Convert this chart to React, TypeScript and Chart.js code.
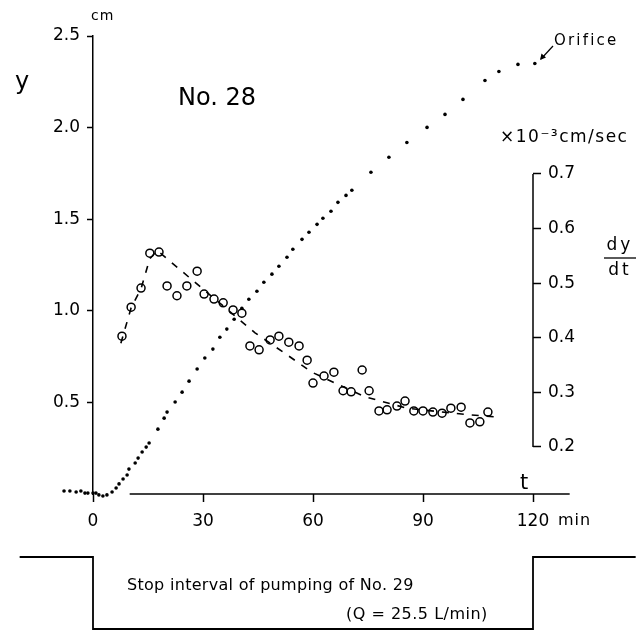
import { useEffect, useRef } from 'react';
import { Chart, registerables } from 'chart.js';

Chart.register(...registerables);

const FONT = '"DejaVu Sans", sans-serif';

// water level y (cm) of No. 28 — dotted record
const levelT = [-7.9, -6.3, -4.6, -3.3, -2.2, -1.4, 0, 0.8, 1.6, 2.7, 3.8, 5.2, 6.3, 7.1, 8.2, 9.3, 9.8, 11.5, 12.3, 13.4, 14.5, 15.3, 17.7, 19.4, 20.2, 22.4, 24.3, 26.2, 28.4, 30.5, 32.7, 34.6, 36.5, 38.5, 40.6, 42.5, 44.7, 46.6, 48.8, 50.7, 52.9, 54.5, 57.0, 58.9, 61.1, 62.7, 64.9, 66.8, 69.0, 70.6, 75.8, 80.7, 85.6, 91.1, 96.0, 100.9, 106.9, 110.7, 115.9, 120.5];
const levelY = [0.016, 0.016, 0.011, 0.016, 0.005, 0.005, 0.005, 0.005, -0.005, -0.011, -0.005, 0.011, 0.033, 0.055, 0.082, 0.104, 0.136, 0.169, 0.196, 0.229, 0.256, 0.278, 0.354, 0.414, 0.447, 0.502, 0.556, 0.616, 0.682, 0.742, 0.791, 0.856, 0.9, 0.954, 1.014, 1.063, 1.107, 1.156, 1.2, 1.243, 1.292, 1.336, 1.39, 1.429, 1.472, 1.505, 1.543, 1.592, 1.63, 1.658, 1.756, 1.838, 1.919, 2.001, 2.072, 2.154, 2.257, 2.306, 2.345, 2.35];

// dy/dt (x10^-3 cm/sec) — circles
const rateT = [7.9, 10.4, 13.1, 15.5, 18.0, 20.2, 22.9, 25.6, 28.4, 30.3, 33.0, 35.5, 38.2, 40.6, 42.8, 45.3, 48.3, 50.7, 53.4, 56.2, 58.4, 60.0, 63.0, 65.7, 68.2, 70.4, 73.4, 75.3, 78.0, 80.2, 82.9, 85.1, 87.5, 90.0, 92.7, 95.2, 97.6, 100.4, 102.8, 105.5, 107.7];
const rateV = [0.403, 0.456, 0.491, 0.555, 0.557, 0.495, 0.477, 0.495, 0.522, 0.48, 0.471, 0.464, 0.451, 0.445, 0.385, 0.378, 0.396, 0.403, 0.392, 0.385, 0.359, 0.317, 0.33, 0.337, 0.303, 0.301, 0.341, 0.303, 0.266, 0.268, 0.275, 0.284, 0.266, 0.266, 0.264, 0.262, 0.271, 0.273, 0.244, 0.246, 0.264];

// dashed trend of dy/dt
const trendT = [7.6, 10.4, 13.1, 15.5, 17.5, 44.2, 51.8, 59.7, 66.0, 74.2, 85.6, 102.5, 110.2];
const trendV = [0.39, 0.455, 0.49, 0.545, 0.56, 0.409, 0.374, 0.337, 0.317, 0.292, 0.271, 0.259, 0.255];

// pumping of No. 29 (1 = pumping, 0 = stopped)
const pumpT = [-20, 0, 0, 120, 120, 148];
const pumpQ = [1, 1, 0, 0, 1, 1];

const xTicks = [0, 30, 60, 90, 120];
const yTicks = [0.5, 1.0, 1.5, 2.0, 2.5];
const rateTicks = [0.2, 0.3, 0.4, 0.5, 0.6, 0.7];

const pts = (xs: number[], ys: number[]) => xs.map((x, i) => ({ x, y: ys[i] }));

// let marks that lie outside the axes' box (before t = 0, below the t axis) be drawn
let savedArea: any = null;
const wideArea = {
  id: 'wideArea',
  beforeDatasetsDraw(chart: any) {
    savedArea = chart.chartArea;
    chart.chartArea = { left: 0, top: 0, right: chart.width, bottom: chart.height, width: chart.width, height: chart.height };
  },
  afterDatasetsDraw(chart: any) {
    if (savedArea) chart.chartArea = savedArea;
    savedArea = null;
  },
};

const textPlugin = {
  id: 'annotations',
  afterDraw(chart: any) {
    const ctx = chart.ctx as CanvasRenderingContext2D;
    const xs = chart.scales.x;
    const ys = chart.scales.y;
    const rs = chart.scales.rate;
    ctx.save();
    ctx.strokeStyle = '#000';
    ctx.fillStyle = '#000';
    ctx.lineWidth = 1.5;
    // t axis line
    const y0 = ys.getPixelForValue(0);
    ctx.beginPath();
    ctx.moveTo(xs.getPixelForValue(10), y0);
    ctx.lineTo(xs.getPixelForValue(130), y0);
    ctx.stroke();
    // dy/dt axis line, only over its range
    ctx.beginPath();
    ctx.moveTo(rs.left, rs.getPixelForValue(0.7));
    ctx.lineTo(rs.left, rs.getPixelForValue(0.2));
    ctx.stroke();

    const txt = (s: string, x: number, y: number, size: number, align: CanvasTextAlign = 'left', spacing = 0) => {
      ctx.font = `${size}px ${FONT}`;
      (ctx as any).letterSpacing = `${spacing}px`;
      ctx.textAlign = align;
      ctx.textBaseline = 'middle';
      ctx.fillText(s, x, y);
    };
    txt('cm', 91, 16, 14, 'left', 1);
    txt('y', 15, 83, 24);
    txt('No. 28', 178, 99, 24);
    txt('×10⁻³cm/sec', 500, 138, 17, 'left', 1.5);
    txt('Orifice', 554, 41, 15, 'left', 2.2);
    txt('dy', 620, 246, 17, 'center', 3);
    txt('dt', 620, 271, 17, 'center', 3);
    ctx.lineWidth = 1.3;
    ctx.beginPath();
    ctx.moveTo(604, 258);
    ctx.lineTo(636, 258);
    ctx.stroke();
    txt('t', 524, 484, 21, 'center');
    txt('min', 558, 521, 16, 'left', 1);
    txt('Stop interval of pumping of No. 29', 127, 586, 16, 'left', 0.3);
    txt('(Q = 25.5 L/min)', 346, 615, 16, 'left', 0.5);

    // Orifice arrow
    ctx.lineWidth = 1.2;
    ctx.beginPath();
    ctx.moveTo(553, 46);
    ctx.lineTo(541, 59);
    ctx.stroke();
    ctx.beginPath();
    ctx.moveTo(540, 60);
    ctx.lineTo(541.5, 53.5);
    ctx.lineTo(546, 57.5);
    ctx.closePath();
    ctx.fill();
    ctx.restore();
  },
};

export default function App() {
  const ref = useRef<HTMLCanvasElement | null>(null);
  useEffect(() => {
    if (!ref.current) return;
    const chart = new Chart(ref.current, {
      type: 'scatter',
      data: {
        datasets: [
          {
            label: 'trend',
            data: pts(trendT, trendV),
            yAxisID: 'rate',
            showLine: true,
            borderColor: '#000',
            borderWidth: 1.6,
            borderDash: [7, 8],
            pointRadius: 0,
            clip: false,
          } as any,
          {
            label: 'dy/dt',
            data: pts(rateT, rateV),
            yAxisID: 'rate',
            showLine: false,
            pointRadius: 4,
            pointBorderWidth: 1.5,
            pointBorderColor: '#000',
            pointBackgroundColor: 'rgba(255,255,255,0)',
            clip: false,
          } as any,
          {
            label: 'y',
            data: pts(levelT, levelY),
            yAxisID: 'y',
            showLine: false,
            pointRadius: 1.8,
            pointBorderWidth: 0,
            pointBackgroundColor: '#000',
            clip: false,
          } as any,
          {
            label: 'pump',
            data: pts(pumpT, pumpQ),
            yAxisID: 'pump',
            showLine: true,
            borderColor: '#000',
            borderWidth: 1.8,
            pointRadius: 0,
            clip: false,
          } as any,
        ],
      },
      options: {
        animation: false,
        responsive: true,
        maintainAspectRatio: false,
        layout: { padding: { top: 36, left: 0, right: 0, bottom: 0 } },
        plugins: { legend: { display: false }, tooltip: { enabled: false } },
        events: [],
        scales: {
          x: {
            type: 'linear',
            position: 'bottom',
            bounds: 'data',
            afterDataLimits: (s: any) => { s.min = 0; s.max = 120; },
            afterBuildTicks: (s: any) => { s.ticks = xTicks.map((v) => ({ value: v })); },
            afterFit: (s: any) => { s.height = 137; },
            grid: { drawOnChartArea: false, drawTicks: true, tickLength: 8, tickWidth: 1.5, tickColor: '#000' },
            border: { display: false },
            ticks: {
              autoSkip: false, maxRotation: 0, padding: 9, color: '#000',
              font: { family: FONT, size: 17 },
              callback: (v: any) => String(v),
            },
          },
          y: {
            type: 'linear',
            position: 'left',
            axis: 'y',
            bounds: 'data',
            afterDataLimits: (s: any) => { s.min = 0; s.max = 2.5; },
            afterBuildTicks: (s: any) => { s.ticks = yTicks.map((v) => ({ value: v })); },
            afterFit: (s: any) => { s.width = 93; },
            grid: { drawOnChartArea: false, drawTicks: true, tickLength: 6, tickWidth: 1.5, tickColor: '#000' },
            border: { display: true, color: '#000', width: 1.5 },
            ticks: {
              padding: 7, color: '#000',
              font: { family: FONT, size: 17 },
              callback: (v: any) => Number(v).toFixed(1),
            },
          },
          rate: {
            type: 'linear',
            position: 'right',
            axis: 'y',
            bounds: 'data',
            afterDataLimits: (s: any) => { s.min = 0.1139; s.max = 0.9527; },
            afterBuildTicks: (s: any) => { s.ticks = rateTicks.map((v) => ({ value: v })); },
            afterFit: (s: any) => { s.width = 104; },
            grid: { drawOnChartArea: false, drawTicks: true, tickLength: 8, tickWidth: 1.5, tickColor: '#000' },
            border: { display: false },
            ticks: {
              padding: 7, color: '#000',
              font: { family: FONT, size: 17 },
              callback: (v: any) => Number(v).toFixed(1),
            },
          },
          pump: {
            type: 'linear',
            axis: 'y',
            position: 'right',
            display: false,
            bounds: 'data',
            afterDataLimits: (s: any) => { s.min = 1.875; s.max = 8.236; },
          },
        },
      } as any,
      plugins: [wideArea, textPlugin],
    });
    return () => chart.destroy();
  }, []);
  return (
    <div style={{ position: 'fixed', left: 0, top: 0, width: 637, height: 631, background: '#fff' }}>
      <canvas ref={ref} />
    </div>
  );
}
